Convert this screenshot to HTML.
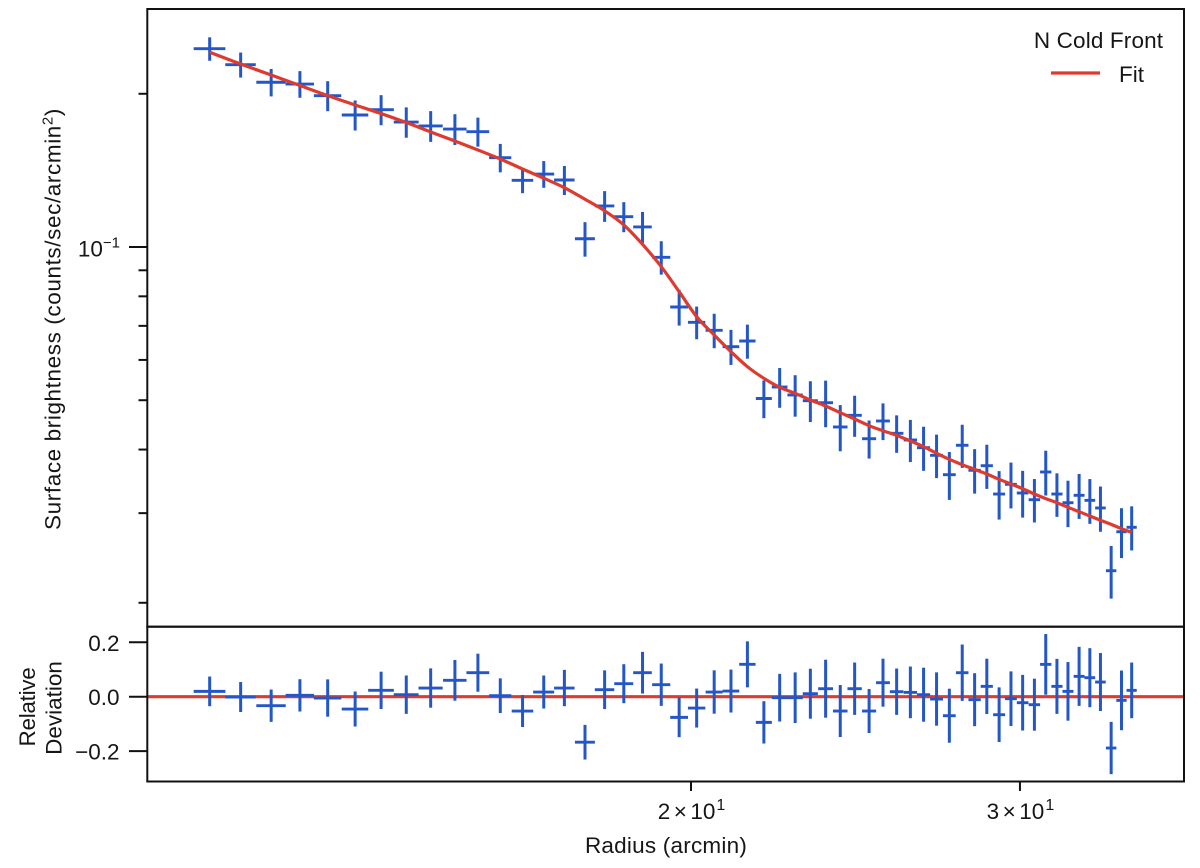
<!DOCTYPE html>
<html lang="en">
<head>
<meta charset="utf-8">
<title>N Cold Front surface brightness profile</title>
<style>
  html, body { margin: 0; padding: 0; background: #ffffff; }
  #chart { display: block; width: 1200px; height: 868px; }
  text { font-family: "Liberation Sans", Arial, sans-serif; font-size: 22.5px; fill: #161616; }
</style>
</head>
<body>
<svg id="chart" xmlns="http://www.w3.org/2000/svg" width="1200" height="868" viewBox="0 0 1200 868">
  <rect x="0" y="0" width="1200" height="868" fill="#ffffff"/>
  <g id="ticks"></g>
  <g id="upper-marks"></g>
  <path id="fit-line" fill="none" stroke="#dd3b2f" stroke-width="3.2" stroke-linejoin="round"/>
  <line id="zero-line" stroke="#dd3b2f" stroke-width="3.2"/>
  <g id="lower-marks"></g>
  <rect x="147.3" y="9" width="1036.7" height="617.7" fill="none" stroke="#111111" stroke-width="2"/>
  <rect x="147.3" y="626.7" width="1036.7" height="154.8" fill="none" stroke="#111111" stroke-width="2"/>
  <g id="tick-labels"></g>
  <text x="666" y="853" text-anchor="middle" letter-spacing="0.22">Radius (arcmin)</text>
  <text transform="translate(60.5 319) rotate(-90)" text-anchor="middle" letter-spacing="0.6">Surface brightness (counts/sec/arcmin<tspan dy="-8" font-size="15">2</tspan><tspan dy="8">)</tspan></text>
  <text transform="translate(35 707) rotate(-90)" text-anchor="middle" letter-spacing="-0.3">Relative</text>
  <text transform="translate(61.5 708) rotate(-90)" text-anchor="middle">Deviation</text>
  <g>
    <text x="1098.5" y="48" text-anchor="middle" letter-spacing="0.15">N Cold Front</text>
    <line x1="1051" y1="73" x2="1100" y2="73" stroke="#dd3b2f" stroke-width="3.2"/>
    <text x="1119" y="82">Fit</text>
  </g>
</svg>
<script>
const radius = [11.05, 11.48, 11.92, 12.35, 12.78, 13.22, 13.65, 14.08, 14.51, 14.95, 15.38, 15.81, 16.25, 16.68, 17.11, 17.55, 17.98, 18.41, 18.84, 19.28, 19.71, 20.14, 20.58, 21.01, 21.44, 21.88, 22.31, 22.74, 23.17, 23.61, 24.04, 24.47, 24.91, 25.34, 25.77, 26.21, 26.64, 27.07, 27.50, 27.94, 28.37, 28.80, 29.24, 29.67, 30.10, 30.54, 30.97, 31.40, 31.83, 32.27, 32.70, 33.13, 33.57, 34.00, 34.43];
const radiusHalfWidth = 0.216;
const brightness = [0.2452, 0.2281, 0.2107, 0.2090, 0.1983, 0.1817, 0.1861, 0.1760, 0.1729, 0.1705, 0.1685, 0.1498, 0.1352, 0.1391, 0.1354, 0.1038, 0.1204, 0.1147, 0.1095, 0.09545, 0.07623, 0.07113, 0.0686, 0.0637, 0.06536, 0.05039, 0.05308, 0.0512, 0.04989, 0.04944, 0.0443, 0.0467, 0.04201, 0.04552, 0.04305, 0.04177, 0.04034, 0.03897, 0.0357, 0.04078, 0.03642, 0.03718, 0.03271, 0.03418, 0.03286, 0.03188, 0.03614, 0.03271, 0.03145, 0.03252, 0.03179, 0.03071, 0.02312, 0.02758, 0.02814];
const brightnessErr = [0.01298, 0.0129, 0.01306, 0.01258, 0.01345, 0.01233, 0.01263, 0.01206, 0.0120, 0.01184, 0.01105, 0.00962, 0.00765, 0.0084, 0.00888, 0.00808, 0.00836, 0.00778, 0.00768, 0.00719, 0.00615, 0.00525, 0.00534, 0.00504, 0.00503, 0.00429, 0.00476, 0.00479, 0.00459, 0.00519, 0.00461, 0.00433, 0.00361, 0.00377, 0.00364, 0.00397, 0.00401, 0.00382, 0.00385, 0.00397, 0.00365, 0.0037, 0.00357, 0.00353, 0.00346, 0.00312, 0.00365, 0.00321, 0.00329, 0.00329, 0.00321, 0.00313, 0.00274, 0.0031, 0.0028];
const fitBrightness = [0.2413, 0.2288, 0.2177, 0.2076, 0.1983, 0.1901, 0.1829, 0.1756, 0.1683, 0.1615, 0.1551, 0.1489, 0.1423, 0.1365, 0.1308, 0.1241, 0.1178, 0.1105, 0.1012, 0.09148, 0.08169, 0.07296, 0.06716, 0.06228, 0.05819, 0.05521, 0.05301, 0.05159, 0.05005, 0.04871, 0.04726, 0.04593, 0.04456, 0.04356, 0.04266, 0.04158, 0.04052, 0.03933, 0.03827, 0.03735, 0.03658, 0.03581, 0.03496, 0.03423, 0.03351, 0.03271, 0.03203, 0.03145, 0.0308, 0.0302, 0.02961, 0.02905, 0.02852, 0.02796, 0.02751];
const deviation = [0.0196, -0.0012, -0.0331, 0.0049, -0.0049, -0.0453, 0.0233, 0.0074, 0.0319, 0.0601, 0.0882, 0.0037, -0.0527, 0.0172, 0.0319, -0.1673, 0.0257, 0.0478, 0.0882, 0.0441, -0.076, -0.0417, 0.0172, 0.0208, 0.1189, -0.0944, -0.0037, -0.0037, 0.011, 0.0294, -0.0527, 0.0294, -0.0527, 0.0515, 0.0184, 0.0159, 0.0074, -0.0086, -0.0699, 0.0882, -0.011, 0.038, -0.0662, -0.0074, -0.0221, -0.0294, 0.1189, 0.038, 0.0196, 0.0748, 0.0699, 0.0539, -0.1887, -0.0135, 0.0233];
const deviationErr = [0.0545, 0.0551, 0.0594, 0.0594, 0.0686, 0.0643, 0.0686, 0.0705, 0.0723, 0.0748, 0.0699, 0.0637, 0.0588, 0.0607, 0.0668, 0.0637, 0.0711, 0.0717, 0.0766, 0.0778, 0.0729, 0.0717, 0.0797, 0.079, 0.0846, 0.0778, 0.0876, 0.0931, 0.0919, 0.1066, 0.0956, 0.0962, 0.0809, 0.0882, 0.0852, 0.095, 0.0993, 0.098, 0.0993, 0.1036, 0.0974, 0.1017, 0.1005, 0.1005, 0.1023, 0.0956, 0.1115, 0.1011, 0.1078, 0.1085, 0.1085, 0.1066, 0.0962, 0.1097, 0.1023];
const xTickValues = [20, 30];
const xTickMantissas = ['2', '3'];
const yMajorTicks = [0.1];
const yMinorTicks = [0.02, 0.03, 0.04, 0.05, 0.06, 0.07, 0.08, 0.09, 0.2];
const deviationTicks = [0.2, 0, -0.2];
const deviationTickLabels = ['0.2', '0.0', '\u22120.2'];

const SVG_NS = 'http://www.w3.org/2000/svg';
const BLUE = '#2457c5';
const INK = '#111111';

function xScale(r) { return 691 + 1868 * Math.log10(r / 20); }
function yScale(v) { return 247 - 509 * Math.log10(v / 0.1); }
function devScale(d) { return 696.7 - 272 * d; }

function makeLine(parent, x1, y1, x2, y2, color, width) {
  const el = document.createElementNS(SVG_NS, 'line');
  el.setAttribute('x1', x1.toFixed(2));
  el.setAttribute('y1', y1.toFixed(2));
  el.setAttribute('x2', x2.toFixed(2));
  el.setAttribute('y2', y2.toFixed(2));
  el.setAttribute('stroke', color);
  el.setAttribute('stroke-width', width);
  parent.appendChild(el);
  return el;
}

function makeText(parent, x, y, anchor) {
  const el = document.createElementNS(SVG_NS, 'text');
  el.setAttribute('x', x);
  el.setAttribute('y', y);
  el.setAttribute('text-anchor', anchor);
  parent.appendChild(el);
  return el;
}

function addSpan(textEl, content, dx, dy, size) {
  const s = document.createElementNS(SVG_NS, 'tspan');
  if (dx) s.setAttribute('dx', dx);
  if (dy) s.setAttribute('dy', dy);
  if (size) s.setAttribute('font-size', size);
  s.textContent = content;
  textEl.appendChild(s);
}

const upperGroup = document.getElementById('upper-marks');
const lowerGroup = document.getElementById('lower-marks');
const ticksGroup = document.getElementById('ticks');
const labelsGroup = document.getElementById('tick-labels');

radius.forEach(function (r, i) {
  const cx = xScale(r);
  const xa = xScale(r - radiusHalfWidth);
  const xb = xScale(r + radiusHalfWidth);

  const upper = document.createElementNS(SVG_NS, 'g');
  
  
  upperGroup.appendChild(upper);
  const uh = makeLine(upper, xa, yScale(brightness[i]), xb, yScale(brightness[i]), BLUE, 2.9);
  
  
  const uv = makeLine(upper, cx, yScale(brightness[i] + brightnessErr[i]), cx, yScale(brightness[i] - brightnessErr[i]), BLUE, 3);
  
  

  const lower = document.createElementNS(SVG_NS, 'g');
  
  
  lowerGroup.appendChild(lower);
  const lh = makeLine(lower, xa, devScale(deviation[i]), xb, devScale(deviation[i]), BLUE, 2.9);
  
  
  const lv = makeLine(lower, cx, devScale(deviation[i] + deviationErr[i]), cx, devScale(deviation[i] - deviationErr[i]), BLUE, 3);
  
  
});

// Fit line: smooth Catmull-Rom curve through the fit samples
const fitPts = radius.map(function (r, i) { return [xScale(r), yScale(fitBrightness[i])]; });
let fitPath = 'M' + fitPts[0][0].toFixed(2) + ' ' + fitPts[0][1].toFixed(2);
for (let i = 0; i < fitPts.length - 1; i++) {
  const p0 = fitPts[Math.max(i - 1, 0)];
  const p1 = fitPts[i];
  const p2 = fitPts[i + 1];
  const p3 = fitPts[Math.min(i + 2, fitPts.length - 1)];
  fitPath += ' C' + (p1[0] + (p2[0] - p0[0]) / 6).toFixed(2) + ' ' + (p1[1] + (p2[1] - p0[1]) / 6).toFixed(2) +
             ' ' + (p2[0] - (p3[0] - p1[0]) / 6).toFixed(2) + ' ' + (p2[1] - (p3[1] - p1[1]) / 6).toFixed(2) +
             ' ' + p2[0].toFixed(2) + ' ' + p2[1].toFixed(2);
}
document.getElementById('fit-line').setAttribute('d', fitPath);

const zero = document.getElementById('zero-line');
zero.setAttribute('x1', 147.3);
zero.setAttribute('x2', 1184);
zero.setAttribute('y1', devScale(0));
zero.setAttribute('y2', devScale(0));

xTickValues.forEach(function (v, i) {
  const x = xScale(v);
  const tick = makeLine(ticksGroup, x, 781.5, x, 791, INK, 2);
  
  
  const label = makeText(labelsGroup, x + 0.5, 819, 'middle');
  
  
  addSpan(label, xTickMantissas[i]);
  addSpan(label, '\u00d7', 3.5);
  addSpan(label, '10', 3.5);
  addSpan(label, '1', 1, -9, 16);
});

yMajorTicks.forEach(function (v) {
  const y = yScale(v);
  const tick = makeLine(ticksGroup, 129, y, 147.3, y, INK, 2);
  
  
  const label = makeText(labelsGroup, 120, y + 9.5, 'end');
  
  
  addSpan(label, '10');
  addSpan(label, '\u22121', 0, -9, 15);
});

yMinorTicks.forEach(function (v) {
  const y = yScale(v);
  const tick = makeLine(ticksGroup, 138.5, y, 147.3, y, INK, 2);
  
  
});

deviationTicks.forEach(function (v, i) {
  const y = devScale(v);
  const tick = makeLine(ticksGroup, 129, y, 147.3, y, INK, 2);
  
  
  const label = makeText(labelsGroup, 119.5, y + 8.5, 'end');
  
  
  label.textContent = deviationTickLabels[i];
});
</script>
</body>
</html>
